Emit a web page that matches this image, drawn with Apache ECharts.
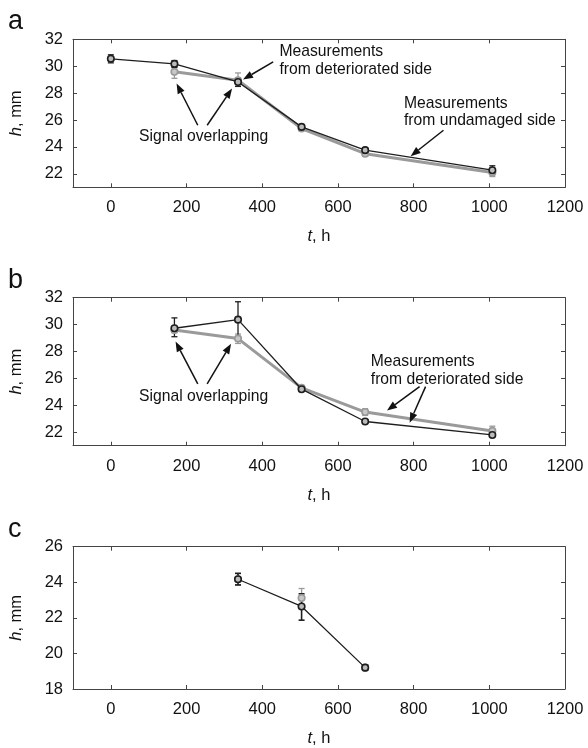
<!DOCTYPE html>
<html><head><meta charset="utf-8">
<script src="https://cdn.jsdelivr.net/npm/echarts@6/dist/echarts.min.js"></script>
<style>html,body{margin:0;padding:0;background:#fff}#c{width:588px;height:748px}</style>
</head><body><div id="c"></div>
<script>
// ---- data ----
const xTicks = [0, 200, 400, 600, 800, 1000, 1200];
const yTicksAB = [22, 24, 26, 28, 30, 32];
const yTicksC = [18, 20, 22, 24, 26];

// panel a
const aT = [0, 168, 336, 504, 672, 1008];
const aBlackH = [30.55, 30.17, 28.83, 25.49, 23.76, 22.27];
const aBlackLo = [30.25, 29.92, 28.5, 25.33, 23.6, 21.95];
const aBlackHi = [30.85, 30.42, 29.15, 25.65, 23.92, 22.6];
const aGrayT = [168, 336, 504, 672, 1008];
const aGrayH = [29.58, 28.96, 25.37, 23.5, 22.1];
const aGrayLo = [29.1, 28.5, 25.22, 23.3, 21.8];
const aGrayHi = [29.9, 29.5, 25.52, 23.7, 22.4];

// panel b
const bT = [168, 336, 504, 672, 1008];
const bBlackH = [29.73, 30.37, 25.2, 22.8, 21.8];
const bBlackLo = [29.1, 29.1, 25.05, 22.7, 21.65];
const bBlackHi = [30.5, 31.7, 25.35, 22.9, 21.95];
const bGrayH = [29.6, 28.96, 25.3, 23.5, 22.1];
const bGrayLo = [29.4, 28.6, 25.15, 23.25, 21.8];
const bGrayHi = [29.8, 29.3, 25.45, 23.75, 22.45];

// panel c
const cT = [336, 504, 672];
const cBlackH = [24.17, 22.64, 19.2];
const cBlackLo = [23.85, 21.87, 19.05];
const cBlackHi = [24.5, 23.35, 19.35];
const cGrayH = [24.17, 23.12, 19.2];
const cGrayLo = [23.85, 22.65, 19.05];
const cGrayHi = [24.5, 23.65, 19.35];

// annotations (data coordinates)
const annoTexts = [
  {panel: 0, text: 'Measurements\nfrom deteriorated side', t: 445.5, h: 31.06},
  {panel: 0, text: 'Signal overlapping', t: 74.5, h: 24.74, single: true},
  {panel: 0, text: 'Measurements\nfrom undamaged side', t: 774.5, h: 27.23},
  {panel: 1, text: 'Signal overlapping', t: 74.5, h: 24.65, single: true},
  {panel: 1, text: 'Measurements\nfrom deteriorated side', t: 686.8, h: 27.25}
];
const annoArrows = [
  {panel: 0, from: [428.9, 30.32], to: [349.2, 29.01]},
  {panel: 0, from: [229.7, 25.61], to: [173.7, 28.71]},
  {panel: 0, from: [254.5, 25.61], to: [320.3, 28.34]},
  {panel: 0, from: [878.9, 25.24], to: [792.1, 23.31]},
  {panel: 1, from: [229.7, 25.59], to: [171, 28.74]},
  {panel: 1, from: [254.5, 25.59], to: [317.6, 28.57]},
  {panel: 1, from: [815.8, 25.39], to: [729.7, 23.61]},
  {panel: 1, from: [831.6, 25.39], to: [789.5, 22.71]}
];
const panelLetters = ['a', 'b', 'c'];

// ---- chart ----
const FF = 'Liberation Sans, Arial, Helvetica, sans-serif';
const AX = '#444';
const grids = [
  {left: 72.7, right: 23, top: 39.3, height: 148},
  {left: 72.7, right: 23, top: 297.7, height: 148},
  {left: 72.7, right: 23, top: 546.7, height: 145.6}
];
const yRanges = [[21, 32, yTicksAB], [21, 32, yTicksAB], [18, 26, yTicksC]];
const plain = v => String(v);

const xAxes = [], yAxes = [];
grids.forEach((g, i) => {
  ['bottom', 'top'].forEach(pos => {
    xAxes.push({
      gridIndex: i, type: 'value', min: -100, max: 1200, position: pos,
      axisLine: {show: true, onZero: false, lineStyle: {color: AX, width: 1}},
      axisTick: {show: true, inside: true, length: 4, customValues: xTicks, lineStyle: {color: AX}},
      axisLabel: {show: pos === 'bottom', customValues: xTicks, formatter: plain, fontSize: 16.5, color: '#111', margin: 12, fontFamily: FF},
      splitLine: {show: false},
      name: pos === 'bottom' ? '{i|t}, h' : '',
      nameLocation: 'middle', nameGap: 41,
      nameTextStyle: {fontSize: 16.5, color: '#111', fontFamily: FF,
        rich: {i: {fontStyle: 'italic', fontSize: 16.5, fontFamily: FF, color: '#111'}}}
    });
  });
  const [mn, mx, ticks] = yRanges[i];
  ['left', 'right'].forEach(pos => {
    yAxes.push({
      gridIndex: i, type: 'value', min: mn, max: mx, position: pos,
      axisLine: {show: true, onZero: false, lineStyle: {color: AX, width: 1}},
      axisTick: {show: true, inside: true, length: 4, customValues: ticks, lineStyle: {color: AX}},
      axisLabel: {show: pos === 'left', customValues: ticks, formatter: plain, fontSize: 16.5, color: '#111', margin: 10, fontFamily: FF},
      splitLine: {show: false},
      name: pos === 'left' ? '{i|h}, mm' : '',
      nameLocation: 'middle', nameGap: 48, nameRotate: 90,
      nameTextStyle: {fontSize: 16.5, color: '#111', fontFamily: FF,
        rich: {i: {fontStyle: 'italic', fontSize: 16.5, fontFamily: FF, color: '#111'}}}
    });
  });
});

function zip2(a, b) { return a.map((v, i) => [v, b[i]]); }
function zip3(a, b, c) { return a.map((v, i) => [v, b[i], c[i]]); }

function errSeries(panel, t, lo, hi, color, w) {
  return {
    type: 'custom', xAxisIndex: panel * 2, yAxisIndex: panel * 2, z: 3,
    data: zip3(t, lo, hi), silent: true,
    renderItem: function (params, api) {
      const x = api.value(0);
      const p1 = api.coord([x, api.value(1)]);
      const p2 = api.coord([x, api.value(2)]);
      const cw = 3;
      const st = {stroke: color, lineWidth: w};
      return {type: 'group', children: [
        {type: 'line', shape: {x1: p1[0], y1: p1[1], x2: p2[0], y2: p2[1]}, style: st},
        {type: 'line', shape: {x1: p1[0] - cw, y1: p1[1], x2: p1[0] + cw, y2: p1[1]}, style: st},
        {type: 'line', shape: {x1: p2[0] - cw, y1: p2[1], x2: p2[0] + cw, y2: p2[1]}, style: st}
      ]};
    }
  };
}
function lineSeries(panel, t, h, color, fill, lw, showLine, z) {
  return {
    type: 'line', xAxisIndex: panel * 2, yAxisIndex: panel * 2, z: z,
    data: zip2(t, h), symbol: 'circle', symbolSize: 6.5, showSymbol: true,
    lineStyle: {color: color, width: showLine ? lw : 0, opacity: showLine ? 1 : 0},
    itemStyle: {color: fill, borderColor: color, borderWidth: 1.6},
    animation: false, silent: true
  };
}

const GRAY = '#9a9a9a', BLACK = '#1e1e1e';
const series = [
  lineSeries(0, aGrayT, aGrayH, GRAY, '#c8c8c8', 3, true, 4),
  errSeries(0, aGrayT, aGrayLo, aGrayHi, GRAY, 1.3),
  lineSeries(0, aT, aBlackH, BLACK, '#bbb', 1.3, true, 5),
  errSeries(0, aT, aBlackLo, aBlackHi, BLACK, 1.3),
  lineSeries(1, bT, bGrayH, GRAY, '#c8c8c8', 3, true, 4),
  errSeries(1, bT, bGrayLo, bGrayHi, GRAY, 1.3),
  lineSeries(1, bT, bBlackH, BLACK, '#bbb', 1.3, true, 5),
  errSeries(1, bT, bBlackLo, bBlackHi, BLACK, 1.3),
  lineSeries(2, cT, cGrayH, GRAY, '#c8c8c8', 2, false, 4),
  errSeries(2, cT, cGrayLo, cGrayHi, GRAY, 1.3),
  lineSeries(2, cT, cBlackH, BLACK, '#bbb', 1.3, true, 5),
  errSeries(2, cT, cBlackLo, cBlackHi, BLACK, 1.6)
];

const chart = echarts.init(document.getElementById('c'), null, {renderer: 'canvas'});
chart.setOption({
  animation: false, backgroundColor: '#fff',
  grid: grids.map(g => Object.assign({containLabel: false}, g)),
  xAxis: xAxes, yAxis: yAxes, series: series
});

function px(panel, pt) {
  return chart.convertToPixel({xAxisIndex: panel * 2, yAxisIndex: panel * 2}, pt);
}
const gfx = [];
const LH = 17.6, AF = 15.7;
annoTexts.forEach(a => {
  const p = px(a.panel, [a.t, a.h]);
  gfx.push({type: 'text', x: p[0], y: a.single ? p[1] : p[1] - LH / 2, z: 10,
    style: {text: a.text, fontSize: AF, fontFamily: FF, fill: '#111', lineHeight: LH,
      align: 'left', verticalAlign: a.single ? 'middle' : 'top'}});
});
annoArrows.forEach(a => {
  const p1 = px(a.panel, a.from), p2 = px(a.panel, a.to);
  const dx = p2[0] - p1[0], dy = p2[1] - p1[1];
  const L = Math.hypot(dx, dy), ux = dx / L, uy = dy / L;
  const hl = 10, hw = 3.8;
  const bx = p2[0] - ux * hl, by = p2[1] - uy * hl;
  gfx.push({type: 'line', z: 10, shape: {x1: p1[0], y1: p1[1], x2: bx, y2: by},
    style: {stroke: '#111', lineWidth: 1.5}});
  gfx.push({type: 'polygon', z: 10, shape: {points: [[p2[0], p2[1]], [bx - uy * hw, by + ux * hw], [bx + uy * hw, by - ux * hw]]},
    style: {fill: '#111'}});
});
grids.forEach((g, i) => {
  gfx.push({type: 'text', x: 8, y: g.top - 4, z: 10,
    style: {text: panelLetters[i], fontSize: 27, fontFamily: FF, fill: '#111', align: 'left', verticalAlign: 'bottom'}});
});
chart.setOption({graphic: gfx});
</script>
</body></html>
